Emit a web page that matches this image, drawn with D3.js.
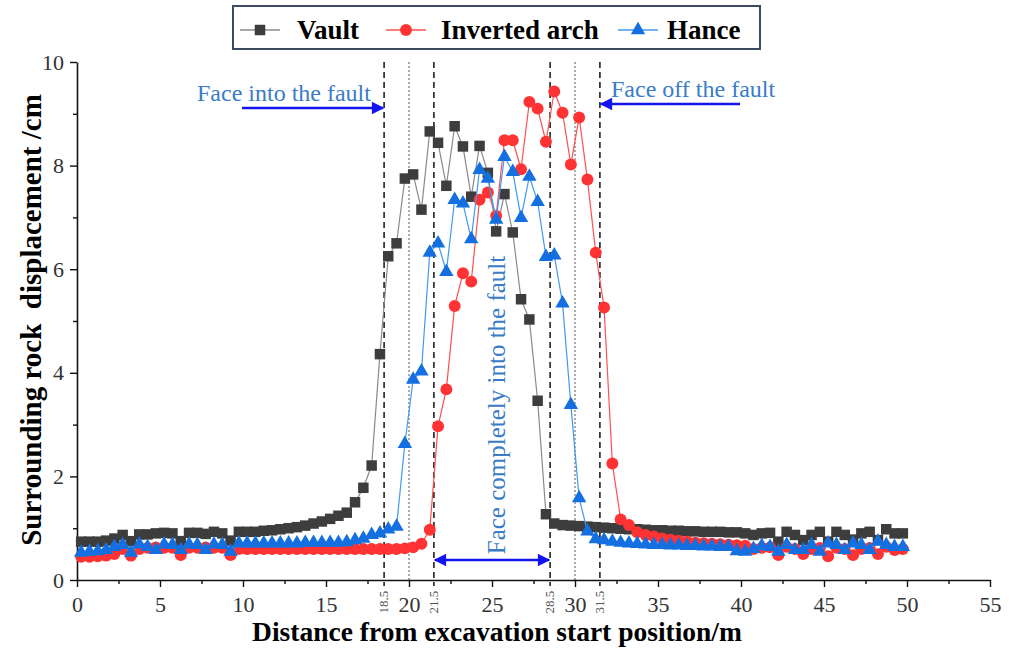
<!DOCTYPE html>
<html lang="en">
<head>
<meta charset="UTF-8">
<title>Surrounding rock displacement</title>
<style>
    body { margin: 0; background: #fff; }
    svg text { font-family: "Liberation Serif", "DejaVu Serif", "Noto Serif", serif; }
</style>
</head>
<body>
<svg id="chart" width="1009" height="649"></svg>
<script src="https://d3js.org/d3.v7.min.js"></script>
<script>
    // measuring points every 0.5 m, starting 0.25 m from the start
    const distance = d3.range(0.25, 50, 0.5);

    const vault = [
        0.74, 0.74, 0.74, 0.76, 0.80, 0.87, 0.75, 0.88, 0.88, 0.90, 0.91, 0.90, 0.75, 0.91, 0.91, 0.89, 0.93, 0.90, 0.76, 0.93,
        0.93, 0.93, 0.95, 0.96, 0.98, 1.00, 1.02, 1.05, 1.09, 1.13, 1.18, 1.24, 1.30, 1.50, 1.78,
        2.21, 4.36, 6.25, 6.50, 7.75, 7.83, 7.15, 8.66, 8.44, 7.61, 8.76, 8.37, 7.40, 8.38, 7.86, 6.73, 7.45, 6.71, 5.42, 5.03, 3.46,
        1.27, 1.09, 1.06, 1.05, 1.04, 1.03, 1.02, 1.01, 1.00, 0.99, 0.98, 0.98, 0.97, 0.96, 0.96, 0.95, 0.95, 0.94, 0.94, 0.93,
        0.93, 0.93, 0.92, 0.92, 0.90,
        0.87, 0.90, 0.91, 0.74, 0.93, 0.87, 0.77, 0.87, 0.93, 0.74, 0.93, 0.87, 0.78, 0.90, 0.93, 0.77, 0.98, 0.90, 0.90
    ];

    const invertedArch = [
        0.45, 0.45, 0.46, 0.47, 0.50, 0.60, 0.47, 0.60, 0.62, 0.63, 0.62, 0.62, 0.48, 0.62, 0.62, 0.63, 0.62, 0.62, 0.48, 0.60,
        0.60, 0.60, 0.60, 0.60, 0.60, 0.60, 0.60, 0.60, 0.60, 0.60, 0.60, 0.60, 0.60, 0.60, 0.60,
        0.60, 0.60, 0.60, 0.60, 0.61, 0.63, 0.70,
        0.97, 2.97, 3.68, 5.29, 5.92, 5.76, 7.34, 7.48, 7.03, 8.49, 8.49, 7.93, 9.23, 9.10, 8.46, 9.43, 9.02, 8.02, 8.93, 7.73,
        6.32, 5.26, 2.25, 1.17, 1.06, 0.92,
        0.87, 0.84, 0.80, 0.78, 0.76, 0.74, 0.72, 0.71, 0.70, 0.69, 0.68, 0.67, 0.66, 0.60, 0.62, 0.63, 0.48, 0.64, 0.60, 0.50,
        0.60, 0.62, 0.46, 0.62, 0.60, 0.48, 0.60, 0.62, 0.50, 0.64, 0.58, 0.60
    ];

    const hance = [
        0.53, 0.55, 0.56, 0.58, 0.64, 0.68, 0.53, 0.69, 0.64, 0.58, 0.69, 0.68, 0.58, 0.69, 0.68, 0.58, 0.69, 0.68, 0.55, 0.71,
        0.71, 0.71, 0.71, 0.71, 0.71, 0.71, 0.71, 0.72, 0.72, 0.72, 0.72, 0.72, 0.73, 0.77, 0.80,
        0.87, 0.90, 0.98, 1.03,
        2.63, 3.87, 4.03, 6.32, 6.50, 5.95, 7.34, 7.27, 6.58, 7.92, 7.75, 6.96, 8.17, 7.88, 6.99, 7.79, 7.30, 6.24, 6.27, 5.34,
        3.38, 1.58, 0.94,
        0.79, 0.77, 0.74, 0.72, 0.71, 0.70, 0.69, 0.68, 0.68, 0.67, 0.67, 0.66, 0.66, 0.65, 0.65, 0.64, 0.64, 0.56, 0.55, 0.60,
        0.66, 0.64, 0.55, 0.68, 0.58, 0.58, 0.68, 0.55, 0.71, 0.68, 0.58, 0.71, 0.68, 0.58, 0.74, 0.68, 0.64, 0.64
    ];

    const xTicks = [0, 5, 10, 15, 20, 25, 30, 35, 40, 45, 50, 55];
    const yTicks = [0, 2, 4, 6, 8, 10];
    const faultLines = [18.5, 21.5, 28.5, 31.5];
    const faultLabels = ["18.5", "21.5", "28.5", "31.5"];
    const midLines = [20, 30];

    const serif = "'Liberation Serif', 'DejaVu Serif', serif";

    const svg = d3.select("#chart");

    const x = d3.scaleLinear().domain([0, 55]).range([77, 990]);
    const y = d3.scaleLinear().domain([0, 10]).range([580, 62]);

    // vertical reference lines
    svg.selectAll(".fault-line")
        .data(faultLines)
        .enter()
        .append("line")
        .attr("x1", d => x(d)).attr("x2", d => x(d))
        .attr("y1", y(10)).attr("y2", y(0) + 6)
        .attr("stroke", "#222")
        .attr("stroke-width", 1.6)
        .attr("stroke-dasharray", "6,4");

    svg.selectAll(".mid-line")
        .data(midLines)
        .enter()
        .append("line")
        .attr("x1", d => x(d)).attr("x2", d => x(d))
        .attr("y1", y(10)).attr("y2", y(0))
        .attr("stroke", "#555")
        .attr("stroke-width", 1)
        .attr("stroke-dasharray", "2,2");

    // axes
    const xAxis = svg.append("g")
        .attr("transform", `translate(0,${y(0)})`)
        .call(d3.axisBottom(x).tickValues(xTicks).tickSize(7).tickPadding(9).tickSizeOuter(0));
    svg.append("g")
        .attr("transform", `translate(0,${y(0)})`)
        .call(d3.axisBottom(x).tickValues(xTicks.slice(0, -1).map(d => d + 2.5)).tickSize(4).tickFormat("").tickSizeOuter(0))
        .select(".domain").remove();

    const yAxis = svg.append("g")
        .attr("transform", `translate(${x(0)},0)`)
        .call(d3.axisLeft(y).tickValues(yTicks).tickSize(7).tickPadding(6).tickSizeOuter(0));
    svg.append("g")
        .attr("transform", `translate(${x(0)},0)`)
        .call(d3.axisLeft(y).tickValues([1, 3, 5, 7, 9]).tickSize(4).tickFormat("").tickSizeOuter(0))
        .select(".domain").remove();

    svg.selectAll(".domain").attr("stroke", "#111").attr("stroke-width", 1.6);
    svg.selectAll(".tick line").attr("stroke", "#111").attr("stroke-width", 1.4);
    [xAxis, yAxis].forEach(g => g.selectAll("text")
        .attr("font-size", 22)
        .attr("fill", "#333")
        .style("font-family", serif));

    // small rotated labels for the fault boundaries
    svg.selectAll(".fault-label")
        .data(faultLines)
        .enter()
        .append("text")
        .attr("transform", d => `translate(${x(d) + 4},${y(0) + 22}) rotate(-90)`)
        .attr("text-anchor", "middle")
        .attr("font-size", 13)
        .attr("fill", "#555")
        .style("font-family", serif)
        .text((d, i) => faultLabels[i]);

    // series
    const series = [
        { name: "Vault", values: vault, line: "#8a8a8a", fill: "#3d3d3d", symbol: d3.symbolSquare, size: 110 },
        { name: "Inverted arch", values: invertedArch, line: "#ff5050", fill: "#ff3333", symbol: d3.symbolCircle, size: 112 },
        { name: "Hance", values: hance, line: "#3f9af2", fill: "#1470e0", symbol: d3.symbolTriangle, size: 90 }
    ];

    const line = d3.line()
        .x((d, i) => x(distance[i]))
        .y(d => y(d));

    series.forEach(s => {
        svg.append("path")
            .datum(s.values)
            .attr("fill", "none")
            .attr("stroke", s.line)
            .attr("stroke-width", 1.2)
            .attr("d", line);

        svg.append("g")
            .selectAll("path")
            .data(s.values)
            .enter()
            .append("path")
            .attr("transform", (d, i) => `translate(${x(distance[i])},${y(d)})`)
            .attr("d", d3.symbol().type(s.symbol).size(s.size))
            .attr("fill", s.fill);
    });

    // annotations
    const noteColor = "#3a7cc6";
    const arrowColor = "#1414f0";

    const defs = svg.append("defs");
    defs.append("marker")
        .attr("id", "arrow")
        .attr("viewBox", "0 0 10 10")
        .attr("refX", 9).attr("refY", 5)
        .attr("markerWidth", 6).attr("markerHeight", 5)
        .attr("orient", "auto-start-reverse")
        .append("path")
        .attr("d", "M0,0 L10,5 L0,10 Z")
        .attr("fill", arrowColor);

    svg.append("text")
        .attr("x", 197).attr("y", 101)
        .attr("font-size", 24)
        .attr("fill", noteColor)
        .style("font-family", serif)
        .text("Face into the fault");
    svg.append("line")
        .attr("x1", 242).attr("x2", x(18.5) - 1)
        .attr("y1", 108).attr("y2", 108)
        .attr("stroke", arrowColor).attr("stroke-width", 2.5)
        .attr("marker-end", "url(#arrow)");

    svg.append("text")
        .attr("x", 611).attr("y", 97)
        .attr("font-size", 24)
        .attr("fill", noteColor)
        .style("font-family", serif)
        .text("Face off the fault");
    svg.append("line")
        .attr("x1", 740).attr("x2", x(31.5) + 1)
        .attr("y1", 104).attr("y2", 104)
        .attr("stroke", arrowColor).attr("stroke-width", 2.5)
        .attr("marker-end", "url(#arrow)");

    svg.append("text")
        .attr("transform", `translate(505,405) rotate(-90)`)
        .attr("text-anchor", "middle")
        .attr("font-size", 25)
        .attr("fill", noteColor)
        .style("font-family", serif)
        .text("Face completely into the fault");
    svg.append("line")
        .attr("x1", x(21.5) + 1).attr("x2", x(28.5) - 1)
        .attr("y1", 560).attr("y2", 560)
        .attr("stroke", arrowColor).attr("stroke-width", 2.5)
        .attr("marker-start", "url(#arrow)")
        .attr("marker-end", "url(#arrow)");

    // axis titles
    svg.append("text")
        .attr("x", 497).attr("y", 641)
        .attr("text-anchor", "middle")
        .attr("font-size", 27.5)
        .attr("font-weight", "bold")
        .attr("fill", "#000")
        .style("font-family", serif)
        .text("Distance from excavation start position/m");

    svg.append("text")
        .attr("transform", "translate(41,320) rotate(-90)")
        .attr("text-anchor", "middle")
        .attr("font-size", 29)
        .attr("font-weight", "bold")
        .attr("fill", "#000")
        .style("font-family", serif)
        .style("white-space", "pre")
        .text("Surrounding rock  displacement /cm");

    // legend
    const legend = svg.append("g");
    legend.append("rect")
        .attr("x", 233).attr("y", 6)
        .attr("width", 527).attr("height", 43)
        .attr("fill", "#fff")
        .attr("stroke", "#3d4b60")
        .attr("stroke-width", 2);

    const legendX = [240, 386, 618];
    const legendTextX = [297, 441, 667];
    series.forEach((s, i) => {
        legend.append("line")
            .attr("x1", legendX[i]).attr("x2", legendX[i] + 40)
            .attr("y1", 30).attr("y2", 30)
            .attr("stroke", s.line).attr("stroke-width", 1.5);
        legend.append("path")
            .attr("transform", `translate(${legendX[i] + 20},30)`)
            .attr("d", d3.symbol().type(s.symbol).size(s.size))
            .attr("fill", s.fill);
        legend.append("text")
            .attr("x", legendTextX[i]).attr("y", 39)
            .attr("font-size", 27)
            .attr("font-weight", "bold")
            .attr("fill", "#000")
            .style("font-family", serif)
            .text(s.name);
    });
</script>
</body>
</html>
